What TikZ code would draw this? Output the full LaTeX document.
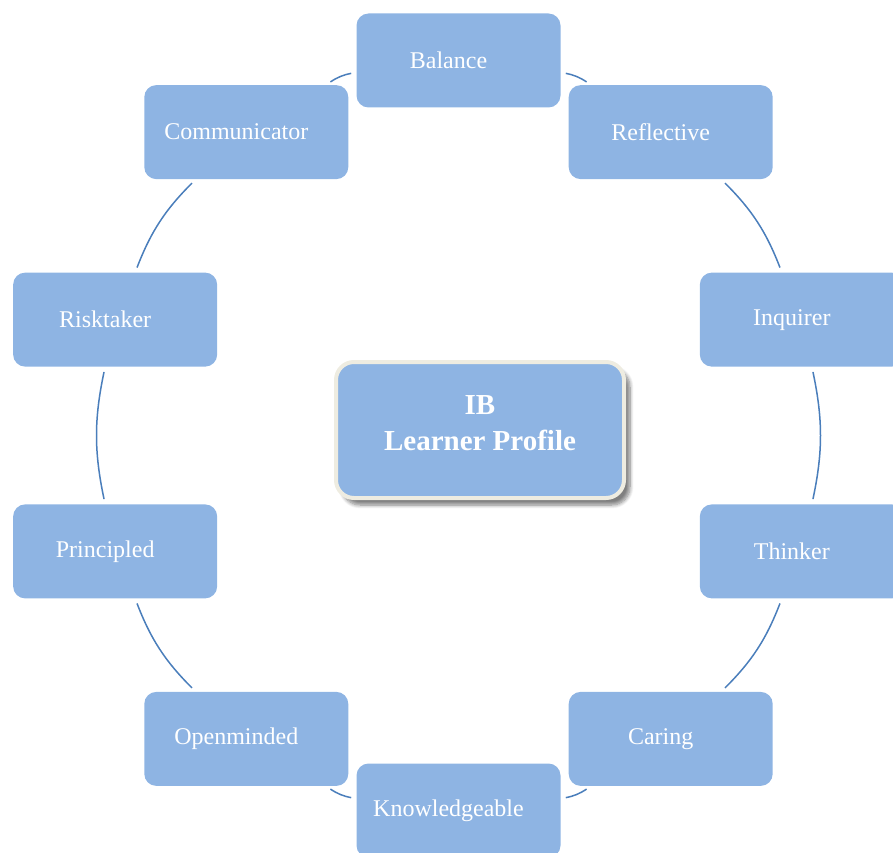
\documentclass[tikz,border=0pt]{standalone}
\usepackage{fontspec}
\setmainfont{Liberation Serif}
\usepackage{tikz}
\usetikzlibrary{shadows,shadows.blur}

\definecolor{boxblue}{HTML}{8EB4E3}
\definecolor{linkblue}{HTML}{4A7EBB}
\definecolor{framecream}{HTML}{EEECE1}

\begin{document}
\begin{tikzpicture}[
		trait/.style={fill=boxblue, rounded corners=6pt, minimum width=102pt, minimum height=47pt,
			text=white, font=\fontsize{12}{14}\selectfont, inner sep=0pt,
			execute at end node=\hspace{10pt}},
		core/.style={fill=boxblue, draw=framecream, line width=2pt, rounded corners=9pt,
			minimum width=144pt, minimum height=68pt, text=white, align=center,
			font=\fontsize{14.5}{18}\selectfont\bfseries,
			blur shadow={shadow xshift=3pt, shadow yshift=-3.5pt, shadow blur steps=8, shadow opacity=50}},
		link/.style={draw=linkblue, line width=0.75pt, shorten >=2.5pt, shorten <=2.5pt, bend left=12},]
	\useasboundingbox (-229.25pt,-208.25pt) rectangle (217.25pt,217.75pt);

		\node[trait] (bal) at (90:180.5pt and 187.5pt) {Balance};
		\node[trait] (refl) at (54:180.5pt and 187.5pt) {Reflective};
		\node[trait] (inq) at (18:180.5pt and 187.5pt) {Inquirer};
		\node[trait] (think) at (-18:180.5pt and 187.5pt) {Thinker};
		\node[trait] (care) at (-54:180.5pt and 187.5pt) {Caring};
		\node[trait] (know) at (-90:180.5pt and 187.5pt) {Knowledgeable};
		\node[trait] (open) at (-126:180.5pt and 187.5pt) {Openminded};
		\node[trait] (princ) at (-162:180.5pt and 187.5pt) {Principled};
		\node[trait] (risk) at (162:180.5pt and 187.5pt) {Risktaker};
		\node[trait] (comm) at (126:180.5pt and 187.5pt) {Communicator};

		\draw[link] (bal) to (refl);
		\draw[link] (refl) to (inq);
		\draw[link] (inq) to (think);
		\draw[link] (think) to (care);
		\draw[link] (care) to (know);
		\draw[link] (know) to (open);
		\draw[link] (open) to (princ);
		\draw[link] (princ) to (risk);
		\draw[link] (risk) to (comm);
		\draw[link] (comm) to (bal);

	% title lifted a little inside the frame (extra depth below it)
	\node[core] (ib) at (10.75pt, 2.75pt) {\raisebox{0pt}[\height][\dimexpr\depth+5pt\relax]{\begin{tabular}{@{}c@{}}IB\\Learner Profile\end{tabular}}};

\end{tikzpicture}
\end{document}
